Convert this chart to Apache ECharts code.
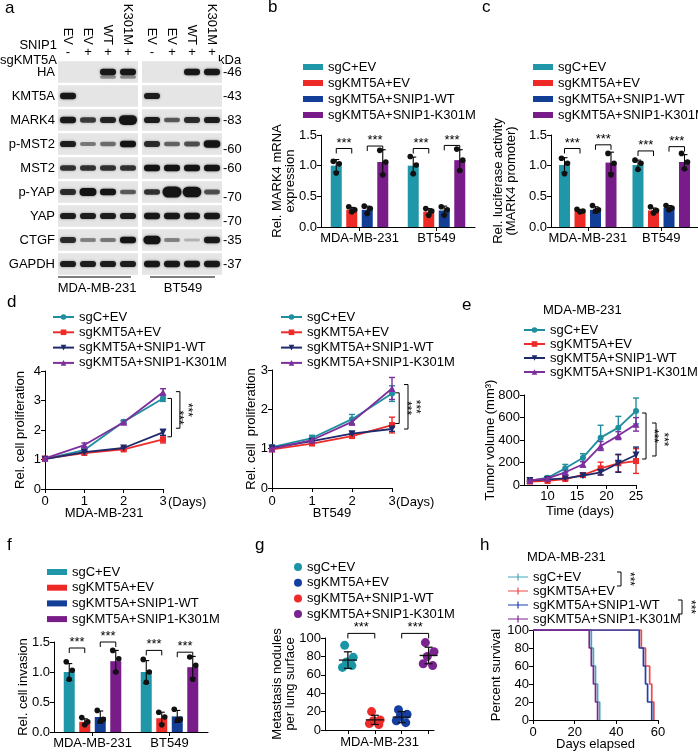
<!DOCTYPE html>
<html><head><meta charset="utf-8">
<script src="https://cdn.jsdelivr.net/npm/echarts@6/dist/echarts.min.js"></script>
<style>html,body{margin:0;padding:0;background:#fff;}#c{width:698px;height:753px;}</style>
</head><body><div id="c"></div>
<script>
// ================= DATA =================
const groupNames = ['sgC+EV','sgKMT5A+EV','sgKMT5A+SNIP1-WT','sgKMT5A+SNIP1-K301M'];
const cellLines = ['MDA-MB-231','BT549'];

// (a) western blot
const laneSNIP1 = ['EV','EV','WT','K301M'];
const laneSg = ['-','+','+','+'];
const blotProteins = ['HA','KMT5A','MARK4','p-MST2','MST2','p-YAP','YAP','CTGF','GAPDH'];
const blotKDa = ['-46','-43','-83','-60','-60','-70','-70','-35','-37'];
const blotMDA = [[0,0,0.95,0.95],[0.95,0,0,0],[0.95,0.7,0.85,1.35],[0.9,0.4,0.45,1.0],[0.75,0.75,0.75,0.75],[0.8,1.15,1.0,0.55],[0.9,0.9,0.9,0.9],[0.8,0.35,0.4,1.0],[0.9,0.9,0.9,0.9]];
const blotBT = [[0,0,0.95,0.95],[0.9,0,0,0],[0.9,0.55,0.8,0.9],[0.8,0.5,0.6,1.1],[1.0,1.0,1.0,1.0],[0.75,1.5,1.45,0.6],[0.95,0.95,0.95,0.95],[1.2,0.35,0.12,0.95],[0.95,0.95,0.95,0.95]];
const blotMDAfaintHA = [0,0,0.3,0.3];

// (b) MARK4 mRNA
const bMean = [[1.00,1.00],[0.28,0.25],[0.28,0.27],[1.06,1.09]];
const bSD = [[0.10,0.14],[0.04,0.05],[0.06,0.07],[0.20,0.17]];
const bPts = [[[0.88,1.03,1.07],[0.87,1.01,1.15]],[[0.25,0.28,0.33],[0.19,0.26,0.30]],[[0.22,0.30,0.34],[0.19,0.28,0.33]],[[0.85,1.06,1.25],[0.92,1.09,1.27]]];
const bSig = [[0,0,1,1.28],[0,2,3,1.32],[1,0,1,1.28],[1,2,3,1.33]];

// (c) luciferase
const cMean = [[1.01,1.01],[0.26,0.27],[0.28,0.31],[1.05,1.06]];
const cSD = [[0.12,0.08],[0.02,0.04],[0.05,0.04],[0.17,0.12]];
const cPts = [[[0.87,1.04,1.12],[0.94,1.04,1.09]],[[0.25,0.26,0.29],[0.23,0.27,0.33]],[[0.26,0.28,0.35],[0.28,0.31,0.35]],[[0.85,1.04,1.20],[0.95,1.06,1.20]]];
const cSig = [[0,0,1,1.28],[0,2,3,1.34],[1,0,1,1.24],[1,2,3,1.31]];

// (d) proliferation
const dDays = [0,1,2,3];
const dMDA = [[1.02,1.32,2.28,3.07],[1.03,1.22,1.34,1.68],[1.01,1.25,1.39,1.92],[1.04,1.49,2.26,3.28]];
const dMDAerr = [[0.03,0.05,0.06,0.10],[0.03,0.03,0.04,0.12],[0.03,0.03,0.03,0.10],[0.03,0.07,0.05,0.12]];
const dBT = [[1.04,1.27,1.75,2.40],[0.98,1.13,1.32,1.60],[1.02,1.19,1.38,1.50],[1.00,1.22,1.68,2.53]];
const dBTerr = [[0.04,0.07,0.12,0.20],[0.03,0.03,0.04,0.20],[0.03,0.03,0.05,0.06],[0.03,0.05,0.08,0.28]];
const dMDAsig = [[3.215,3.07,1.77],[3.43,3.30,2.06]];
const dBTsig = [[3.18,2.42,1.64],[3.40,2.63,1.50]];

// (e) tumor volume
const eDays = [7,10,13,16,19,22,25];
const eVol = [[36,65,148,243,421,510,658],[30,36,53,89,148,193,213],[39,50,59,83,113,193,267],[41,59,113,184,347,439,539]];
const eErr = [[8,15,35,35,110,100,115],[5,8,12,20,55,75,110],[5,8,10,15,25,80,70],[8,10,20,25,40,35,60]];
const eSig = [[26.7,640,231],[28.4,551,258]];
const eTicks = [10,15,20,25];

// (f) invasion
const fMean = [[1.00,1.00],[0.17,0.23],[0.25,0.26],[1.18,1.08]];
const fSD = [[0.14,0.19],[0.05,0.10],[0.10,0.10],[0.18,0.18]];
const fPts = [[[0.88,1.03,1.17],[0.83,1.00,1.21]],[[0.12,0.17,0.24],[0.12,0.25,0.33]],[[0.18,0.21,0.36],[0.20,0.21,0.38]],[[1.00,1.22,1.36],[0.88,1.11,1.25]]];
const fSig = [[0,0,1,1.40],[0,2,3,1.50],[1,0,1,1.36],[1,2,3,1.33]];

// (g) metastasis nodules
const gSlot = [1,3,2,4];
const gVals = [[92,79,74,68,70],[22,17,15,10,8],[20,11,10,7,6],[95,85,80,72,70]];
const gMean = [76,14,11,81];
const gSD = [9,6,5,9];
const gSig = [[1,2,105],[3,4,105]];

// (h) survival
const hTimes = [[0,28,29,30,31,32],[0,52,54,56,57,58],[0,51,53,54,55,57],[0,27,28,29,30,31]];
const hSurv = [100,80,60,40,20,0];

// ================= STYLE =================
const FF = '"Liberation Sans", Arial, Helvetica, sans-serif';
const TXT = {fontFamily:FF, fontSize:13, color:'#000'};
const barColors = ['#1F97A8','#EE2A27','#123E97','#771C88'];
const lineColors = ['#1F8E9E','#EE2B2B','#1E2A6B','#7D2F9E'];
const gColors = ['#1A95A6','#143FA0','#EE2B2B','#7A2490'];
const hColors = ['#43A8B8','#F04848','#1E3FB0','#7E2590'];
const lineSymbols = ['circle','rect','triangle','triangle'];
const lineRot = [0,0,180,0];
const BAR_W = 11, BAR_PITCH = 15.5;
const PTJ = [0, 3, -3];
const GJ = [-0.12, 0.2, -0.05, -0.2, 0.15];
const BLACK = '#000';

function fnt(sz){ return sz + 'px ' + FF; }

function gridOf(left, top, width, height){
  return {left, top, width, height, containLabel:false, outerBoundsMode:'none'};
}
function valY(gi, min, max, interval, name, nameGap, fmt, extra){
  return Object.assign({type:'value', gridIndex:gi, min, max, interval,
    name, nameLocation:'middle', nameGap, nameRotate:90, nameMoveOverlap:false,
    nameTextStyle:Object.assign({lineHeight:13}, TXT),
    axisLine:{show:true, lineStyle:{color:BLACK, width:1}},
    axisTick:{show:true, length:4, lineStyle:{color:BLACK, width:1}},
    axisLabel:Object.assign({margin:4, formatter:fmt}, TXT),
    splitLine:{show:false}}, extra || {});
}
function valX(gi, min, max, interval, name, nameGap, margin, extra){
  return Object.assign({type:'value', gridIndex:gi, min, max, interval,
    name, nameLocation:'middle', nameGap, nameMoveOverlap:false,
    nameTextStyle:Object.assign({}, TXT),
    axisLine:{show:true, onZero:false, lineStyle:{color:BLACK, width:1}},
    axisTick:{show:true, length:4, lineStyle:{color:BLACK, width:1}},
    axisLabel:Object.assign({margin}, TXT),
    splitLine:{show:false}}, extra || {});
}
function catX(gi, data, margin){
  return {type:'category', gridIndex:gi, data,
    axisLine:{show:true, onZero:false, lineStyle:{color:BLACK, width:1}},
    axisTick:{show:true, alignWithLabel:true, length:4, lineStyle:{color:BLACK, width:1}},
    axisLabel:Object.assign({margin, interval:0}, TXT),
    splitLine:{show:false}};
}

// ---------- render helpers ----------
function stripItem(params, api){
  const cs = params.coordSys;
  const y = api.coord([0, api.value(1)])[1];
  const h = api.size([1,1])[1];
  return {type:'rect', shape:{x:cs.x, y:y-h/2+1.3, width:cs.width, height:h-2.6}, style:{fill:'#e5e5e5'}};
}
function bandItem(params, api){
  const v = api.value(2);
  if (!(v > 0)) return null;
  const c = api.coord([api.value(0), api.value(1)]);
  const dy = api.value(3) || 0;
  const bw = api.size([1,1])[0];
  const extra = Math.max(0, v-1);
  const w = bw*0.8 + extra*6;
  const h = 2.4 + 4.2*Math.min(v,1) + 9*extra;
  const a = Math.min(1, 0.12 + 0.9*v);
  return {type:'rect', shape:{x:c[0]-w/2, y:c[1]+dy-h/2, width:w, height:h, r:h/2},
    style:{fill:'rgba(20,20,20,'+a.toFixed(2)+')', shadowBlur:2.5, shadowColor:'rgba(0,0,0,'+(0.55*Math.min(v,1)).toFixed(2)+')'}};
}
function barErrItem(params, api){
  const cat = api.value(0), bi = api.value(1), m = api.value(2), s = api.value(3);
  const c = api.coord([cat, m]);
  const x = c[0] + (bi-1.5)*BAR_PITCH;
  const yt = api.coord([cat, m+s])[1], yb = api.coord([cat, m-s])[1];
  const st = {stroke:BLACK, lineWidth:1.1};
  return {type:'group', children:[
    {type:'line', shape:{x1:x, y1:yt, x2:x, y2:yb}, style:st},
    {type:'line', shape:{x1:x-3, y1:yt, x2:x+3, y2:yt}, style:st},
    {type:'line', shape:{x1:x-3, y1:yb, x2:x+3, y2:yb}, style:st}]};
}
function barPtItem(params, api){
  const cat = api.value(0), bi = api.value(1), v = api.value(2), k = api.value(3);
  const c = api.coord([cat, v]);
  const x = c[0] + (bi-1.5)*BAR_PITCH + PTJ[k];
  return {type:'circle', shape:{cx:x, cy:c[1], r:2.8}, style:{fill:'#111'}};
}
function barSigItem(params, api){
  const cat = api.value(0), a = api.value(1), b = api.value(2), y = api.value(3);
  const c = api.coord([cat, y]);
  const xa = c[0] + (a-1.5)*BAR_PITCH, xb = c[0] + (b-1.5)*BAR_PITCH;
  return {type:'group', children:[
    {type:'polyline', shape:{points:[[xa,c[1]+5],[xa,c[1]],[xb,c[1]],[xb,c[1]+5]]}, style:{stroke:BLACK, fill:null, lineWidth:1}},
    {type:'text', x:(xa+xb)/2, y:c[1]+1, style:{text:'***', font:fnt(13), fill:BLACK, align:'center', verticalAlign:'bottom'}}]};
}
function lineErrItem(params, api){
  const x = api.value(0), y = api.value(1), e = api.value(2), i = api.value(3);
  const p = api.coord([x, y]);
  const yt = api.coord([x, y+e])[1], yb = api.coord([x, y-e])[1];
  const st = {stroke:lineColors[i], lineWidth:1.4};
  return {type:'group', children:[
    {type:'line', shape:{x1:p[0], y1:yt, x2:p[0], y2:yb}, style:st},
    {type:'line', shape:{x1:p[0]-3, y1:yt, x2:p[0]+3, y2:yt}, style:st},
    {type:'line', shape:{x1:p[0]-3, y1:yb, x2:p[0]+3, y2:yb}, style:st}]};
}
function vSigItem(params, api){
  const p1 = api.coord([api.value(0), api.value(1)]);
  const p2 = api.coord([api.value(0), api.value(2)]);
  const x = p1[0];
  return {type:'group', children:[
    {type:'polyline', shape:{points:[[x-4,p1[1]],[x,p1[1]],[x,p2[1]],[x-4,p2[1]]]}, style:{stroke:BLACK, fill:null, lineWidth:1}},
    {type:'text', x:x+1, y:(p1[1]+p2[1])/2, rotation:-Math.PI/2, style:{text:'***', font:fnt(12), fill:BLACK, align:'center', verticalAlign:'bottom'}}]};
}
function gSigItem(params, api){
  const p1 = api.coord([api.value(0), api.value(2)]);
  const p2 = api.coord([api.value(1), api.value(2)]);
  return {type:'group', children:[
    {type:'polyline', shape:{points:[[p1[0],p1[1]+5],[p1[0],p1[1]],[p2[0],p2[1]],[p2[0],p2[1]+5]]}, style:{stroke:BLACK, fill:null, lineWidth:1}},
    {type:'text', x:(p1[0]+p2[0])/2, y:p1[1]+1, style:{text:'***', font:fnt(13), fill:BLACK, align:'center', verticalAlign:'bottom'}}]};
}
function gStatItem(params, api){
  const x = api.value(0), m = api.value(1), s = api.value(2);
  const c = api.coord([x, m]);
  const yt = api.coord([x, m+s])[1], yb = api.coord([x, m-s])[1];
  const st = {stroke:'#111', lineWidth:1.3};
  return {type:'group', children:[
    {type:'line', shape:{x1:c[0]-9, y1:c[1], x2:c[0]+9, y2:c[1]}, style:st},
    {type:'line', shape:{x1:c[0], y1:yt, x2:c[0], y2:yb}, style:st},
    {type:'line', shape:{x1:c[0]-4, y1:yt, x2:c[0]+4, y2:yt}, style:st},
    {type:'line', shape:{x1:c[0]-4, y1:yb, x2:c[0]+4, y2:yb}, style:st}]};
}

// ---------- series builders ----------
function barPanel(prefix, xi, yi, means, sds, pts, sig){
  const out = [];
  means.forEach((row, i) => {
    out.push({type:'bar', name:prefix+'|'+groupNames[i], xAxisIndex:xi, yAxisIndex:yi,
      data:row, barWidth:BAR_W, barGap:'41%', itemStyle:{color:barColors[i]}, z:2});
  });
  const err = [], dots = [];
  means.forEach((row, i) => row.forEach((m, c) => {
    err.push([c, i, m, sds[i][c]]);
    pts[i][c].forEach((v, k) => dots.push([c, i, v, k]));
  }));
  out.push({type:'custom', xAxisIndex:xi, yAxisIndex:yi, data:err, renderItem:barErrItem, z:3});
  out.push({type:'custom', xAxisIndex:xi, yAxisIndex:yi, data:dots, renderItem:barPtItem, z:4});
  out.push({type:'custom', xAxisIndex:xi, yAxisIndex:yi, data:sig, renderItem:barSigItem, z:4});
  return out;
}
function linePanel(prefix, xi, yi, xs, ys, errs, sig){
  const out = [];
  const err = [];
  ys.forEach((row, i) => {
    out.push({type:'line', name:prefix+'|'+groupNames[i], xAxisIndex:xi, yAxisIndex:yi,
      data:row.map((v,k)=>[xs[k], v]), symbol:lineSymbols[i], symbolRotate:lineRot[i],
      symbolSize:i>=2?7:6, showSymbol:true, lineStyle:{color:lineColors[i], width:1.8},
      itemStyle:{color:lineColors[i]}, z:3+i});
    row.forEach((v,k) => err.push([xs[k], v, errs[i][k], i]));
  });
  out.push({type:'custom', xAxisIndex:xi, yAxisIndex:yi, data:err, renderItem:lineErrItem, z:2});
  out.push({type:'custom', xAxisIndex:xi, yAxisIndex:yi, data:sig, renderItem:vSigItem, z:8});
  return out;
}
function legendOf(prefix, left, top, gap, iw, ih, icon){
  const o = {orient:'vertical', left, top, itemGap:gap, itemWidth:iw, itemHeight:ih,
    data:groupNames.map(n => prefix+'|'+n), formatter:n => n.split('|')[1],
    textStyle:Object.assign({lineHeight:13, padding:[0,0,0,0]}, TXT), selectedMode:false, inactiveColor:'#ccc'};
  if (icon) o.icon = icon;
  return o;
}

// ---------- blot data ----------
function blotData(mat){ const d=[]; mat.forEach((row,p)=>row.forEach((v,l)=>d.push([l,p,v,0]))); return d; }
const stripData = blotProteins.map((p,i)=>[0,i]);
const faintHAData = blotMDAfaintHA.map((v,l)=>[l,0,v,5]);

const hiddenAxisBits = {axisLine:{show:false}, axisTick:{show:false}, splitLine:{show:false}};

const option = {
  animation:false,
  backgroundColor:'#fff',
  textStyle:{fontFamily:FF},
  grid:[
    gridOf(58,60,80,216), gridOf(142,60,80,216),
    gridOf(321,135,154,92), gridOf(551,135,147,92),
    gridOf(45,371,118,118), gridOf(272,370,120,118),
    gridOf(524,395,112,90),
    gridOf(54,642,154,90), gridOf(325,638,109,92), gridOf(533,630,125,90)
  ],
  xAxis:[
    Object.assign({type:'category', gridIndex:0, data:laneSNIP1, position:'top', offset:15,
      axisLabel:Object.assign({rotate:90, margin:0, interval:0}, TXT),
      name:'SNIP1', nameLocation:'start', nameGap:1, nameMoveOverlap:false,
      nameTextStyle:Object.assign({padding:[0,0,10,0]}, TXT)}, hiddenAxisBits),
    Object.assign({type:'category', gridIndex:0, data:laneSg, position:'top', offset:0,
      axisLabel:Object.assign({margin:1, interval:0}, TXT),
      name:'sgKMT5A', nameLocation:'start', nameGap:1, nameMoveOverlap:false,
      nameTextStyle:Object.assign({padding:[0,0,14,0]}, TXT)}, hiddenAxisBits),
    Object.assign({type:'category', gridIndex:1, data:laneSNIP1, position:'top', offset:15,
      axisLabel:Object.assign({rotate:90, margin:0, interval:0}, TXT)}, hiddenAxisBits),
    Object.assign({type:'category', gridIndex:1, data:laneSg, position:'top', offset:0,
      axisLabel:Object.assign({margin:1, interval:0}, TXT),
      name:'kDa', nameLocation:'end', nameGap:-4, nameMoveOverlap:false,
      nameTextStyle:Object.assign({padding:[0,0,14,0]}, TXT)}, hiddenAxisBits),
    catX(2, cellLines, 5),
    catX(3, cellLines, 5),
    valX(4, 0, 3, 1, 'MDA-MB-231', 18, 6),
    valX(5, 0, 3, 1, 'BT549', 19, 7),
    valX(6, 6, 25, null, 'Time (days)', 20, 5, {axisTick:{show:true, length:4, customValues:eTicks, lineStyle:{color:BLACK}}, axisLabel:Object.assign({margin:5, customValues:eTicks}, TXT)}),
    catX(7, cellLines, 5),
    valX(8, 0.15, 4.2, null, 'MDA-MB-231', 6, 5, {axisTick:{show:true, length:4, customValues:[1,2,3,4], lineStyle:{color:BLACK}}, axisLabel:{show:false}}),
    valX(9, 0, 60, 20, 'Days elapsed', 18, 6)
  ],
  yAxis:[
    Object.assign({type:'category', gridIndex:0, data:blotProteins, inverse:true,
      axisLabel:Object.assign({margin:3, interval:0}, TXT)}, hiddenAxisBits),
    Object.assign({type:'category', gridIndex:1, data:blotProteins, inverse:true, position:'right',
      axisLabel:Object.assign({margin:1, interval:0,
        formatter:(v, idx) => ([3,5,6].indexOf(idx) >= 0 ? '{d|' + blotKDa[idx] + '}' : blotKDa[idx]),
        rich:{d:Object.assign({padding:[10,0,0,0]}, TXT)}}, TXT)}, hiddenAxisBits),
    valY(2, 0, 1.5, 0.5, 'Rel. MARK4 mRNA\nexpression', 24, v => v.toFixed(1)),
    valY(3, 0, 1.5, 0.5, 'Rel. luciferase activity\n(MARK4 promoter)', 33, v => v.toFixed(1)),
    valY(4, 0, 4, 1, 'Rel. cell proliferation', 18, v => String(v)),
    valY(5, 0, 3, 1, 'Rel. cell  proliferation', 14, v => String(v)),
    valY(6, 0, 800, 200, 'Tumor volume (mm³)', 27, v => String(v)),
    valY(7, 0, 1.5, 0.5, 'Rel. cell invasion', 24, v => v.toFixed(1)),
    valY(8, 0, 100, 20, 'Metastasis nodules\nper lung surface', 28, v => String(v)),
    valY(9, 0, 100, 20, 'Percent survival', 30, v => String(v))
  ],
  legend:[
    legendOf('b', 298, 55.5, 3, 20, 6, 'rect'),
    legendOf('c', 528, 55.5, 3, 20, 6, 'rect'),
    legendOf('dL', 47, 305.5, 2.3, 21, 7),
    legendOf('dR', 275, 305.5, 2.3, 21, 7),
    legendOf('e', 518, 318.5, 1, 21, 7),
    legendOf('f', 42, 560.5, 2.7, 20, 6, 'rect'),
    legendOf('g', 289, 555.5, 2.7, 8, 8, 'circle'),
    legendOf('h', 503, 565.5, 1, 20, 10, 'path://M0,4.4H20V5.6H0Z M9.4,1.5H10.6V8.5H9.4Z')
  ],
  series:[]
};

const S = option.series;
// (a)
S.push({type:'custom', xAxisIndex:1, yAxisIndex:0, data:stripData, renderItem:stripItem, z:1});
S.push({type:'custom', xAxisIndex:1, yAxisIndex:0, data:blotData(blotMDA), renderItem:bandItem, z:2});
S.push({type:'custom', xAxisIndex:1, yAxisIndex:0, data:faintHAData, renderItem:bandItem, z:2});
S.push({type:'custom', xAxisIndex:3, yAxisIndex:1, data:stripData, renderItem:stripItem, z:1});
S.push({type:'custom', xAxisIndex:3, yAxisIndex:1, data:blotData(blotBT), renderItem:bandItem, z:2});
// (b),(c),(f)
S.push(...barPanel('b', 4, 2, bMean, bSD, bPts, bSig));
S.push(...barPanel('c', 5, 3, cMean, cSD, cPts, cSig));
S.push(...barPanel('f', 9, 7, fMean, fSD, fPts, fSig));
// (d),(e)
S.push(...linePanel('dL', 6, 4, dDays, dMDA, dMDAerr, dMDAsig));
S.push(...linePanel('dR', 7, 5, dDays, dBT, dBTerr, dBTsig));
S.push(...linePanel('e', 8, 6, eDays, eVol, eErr, eSig));
// (g)
gVals.forEach((vals, i) => {
  S.push({type:'scatter', name:'g|'+groupNames[i], xAxisIndex:10, yAxisIndex:8,
    data:vals.map((v,k)=>[gSlot[i] + GJ[k], v]), symbol:'circle', symbolSize:9,
    itemStyle:{color:gColors[i], opacity:1}, z:3});
});
S.push({type:'custom', xAxisIndex:10, yAxisIndex:8, data:gMean.map((m,i)=>[gSlot[i], m, gSD[i]]), renderItem:gStatItem, z:5});
S.push({type:'custom', xAxisIndex:10, yAxisIndex:8, data:gSig, renderItem:gSigItem, z:5});
// (h)
hTimes.forEach((ts, i) => {
  S.push({type:'line', name:'h|'+groupNames[i], xAxisIndex:11, yAxisIndex:9, step:'end',
    data:ts.map((t,k)=>[t, hSurv[k]]), showSymbol:false, symbol:'none',
    lineStyle:{color:hColors[i], width:1.7}, itemStyle:{color:hColors[i]}, z:3+i});
});

// annotations (text labels)
const letters = [['a',5,17],['b',268,16],['c',482,16],['d',7,311],['e',462,314],['f',7,554],['g',255,554],['h',480,554]];
option.graphic = [];
letters.forEach(([t,x,y]) => option.graphic.push({type:'text', x, y, style:{text:t, font:fnt(17), fill:BLACK, align:'left', verticalAlign:'bottom'}}));
option.graphic.push(
  {type:'line', shape:{x1:58, y1:277, x2:131, y2:277}, style:{stroke:BLACK, lineWidth:1.2}},
  {type:'line', shape:{x1:150, y1:277, x2:215, y2:277}, style:{stroke:BLACK, lineWidth:1.2}},
  {type:'text', x:97, y:288, style:{text:cellLines[0], font:fnt(13), fill:BLACK, align:'center', verticalAlign:'middle'}},
  {type:'text', x:183, y:288, style:{text:cellLines[1], font:fnt(13), fill:BLACK, align:'center', verticalAlign:'middle'}},
  {type:'text', x:543, y:310, style:{text:'MDA-MB-231', font:fnt(13), fill:BLACK, align:'left', verticalAlign:'middle'}},
  {type:'text', x:527, y:557, style:{text:'MDA-MB-231', font:fnt(13), fill:BLACK, align:'left', verticalAlign:'middle'}},
  {type:'polyline', shape:{points:[[617,572],[621,572],[621,586],[617,586]]}, style:{stroke:BLACK, fill:null, lineWidth:1}},
  {type:'text', x:623, y:579, rotation:-Math.PI/2, style:{text:'***', font:fnt(12), fill:BLACK, align:'center', verticalAlign:'bottom'}},
  {type:'polyline', shape:{points:[[678,600],[682,600],[682,614],[678,614]]}, style:{stroke:BLACK, fill:null, lineWidth:1}},
  {type:'text', x:684, y:607, rotation:-Math.PI/2, style:{text:'***', font:fnt(12), fill:BLACK, align:'center', verticalAlign:'bottom'}}
);

const chart = echarts.init(document.getElementById('c'), null, {renderer:'canvas', width:698, height:753});
chart.setOption(option);
// "(Days)" labels positioned from the axes
const p1 = chart.convertToPixel({xAxisIndex:6, yAxisIndex:4}, [3, 0]);
const p2 = chart.convertToPixel({xAxisIndex:7, yAxisIndex:5}, [3, 0]);
const extra = option.graphic.slice();
extra.push({type:'text', x:p1[0]+5, y:p1[1]+13, style:{text:'(Days)', font:fnt(13), fill:BLACK, align:'left', verticalAlign:'middle'}});
extra.push({type:'text', x:p2[0]+4, y:p2[1]+14, style:{text:'(Days)', font:fnt(13), fill:BLACK, align:'left', verticalAlign:'middle'}});
chart.setOption({graphic:extra}, {replaceMerge:['graphic']});
</script></body></html>
